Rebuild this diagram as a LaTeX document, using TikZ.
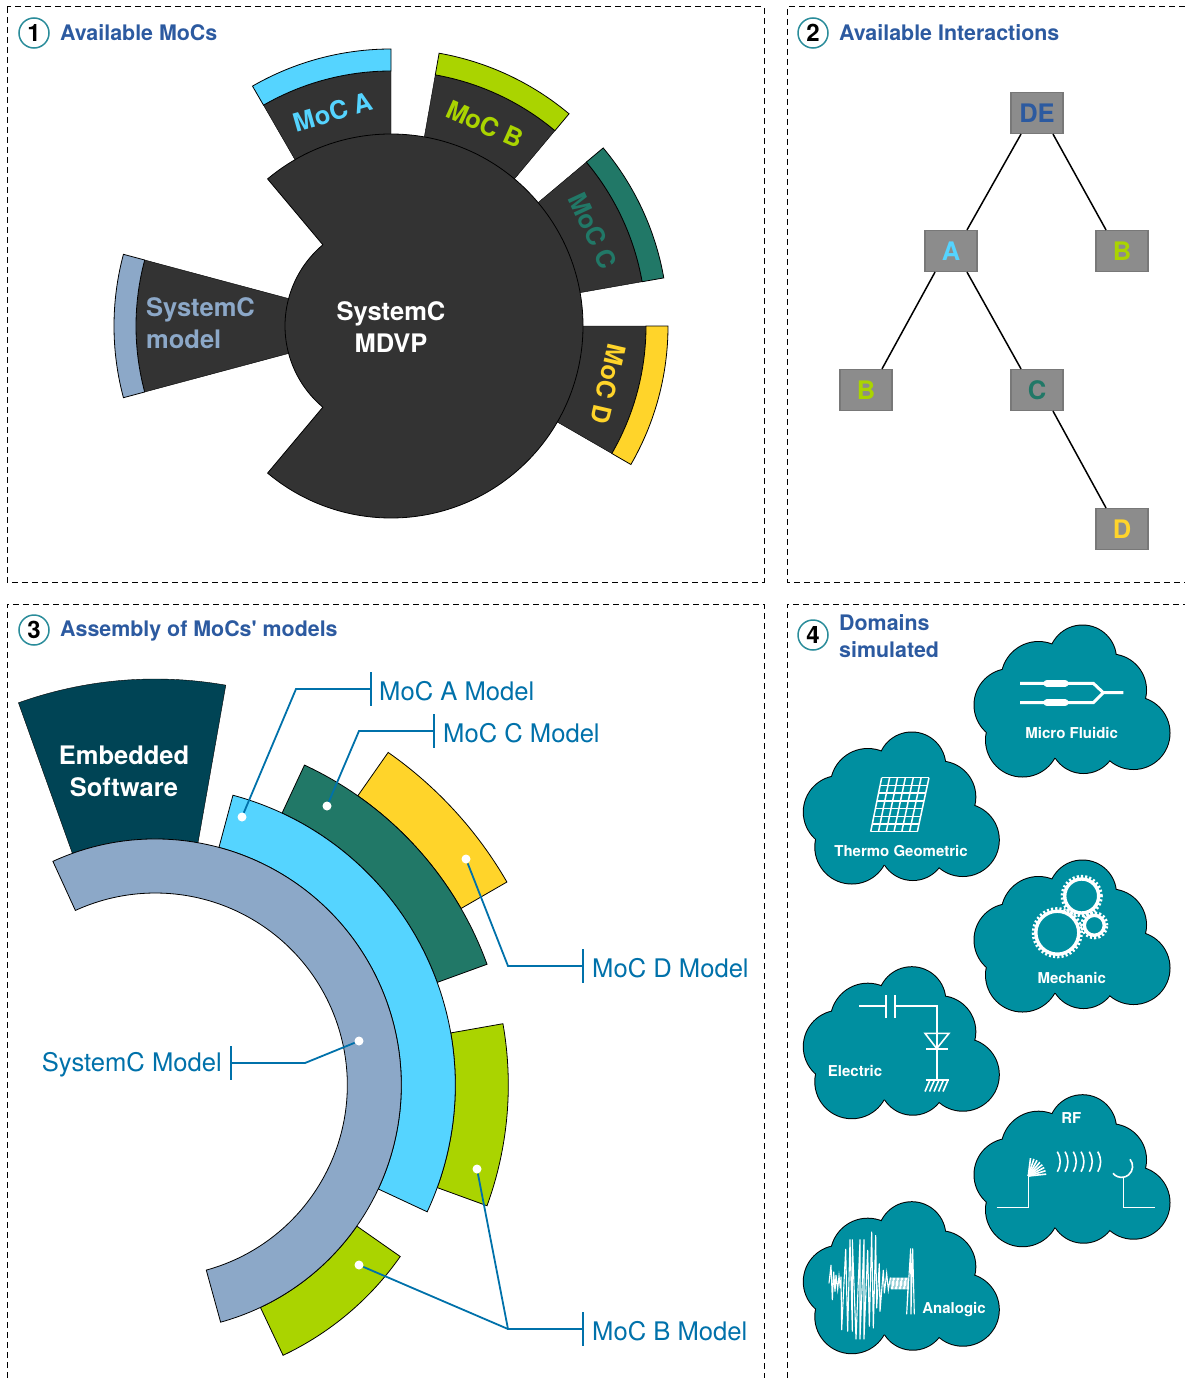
\documentclass[tikz,border=0pt]{standalone}
\usepackage{fontspec}
\setmainfont{TeX Gyre Heros}
\definecolor{mocA}{HTML}{55D4FF}
\definecolor{mocB}{HTML}{AAD400}
\definecolor{mocC}{HTML}{217867}
\definecolor{mocD}{HTML}{FFD42A}
\definecolor{sysc}{HTML}{8CA8C8}
\definecolor{coregray}{HTML}{333333}
\definecolor{softteal}{HTML}{004455}
\definecolor{headblue}{HTML}{2C5AA0}
\definecolor{leadblue}{HTML}{0071AA}
\definecolor{cloudteal}{HTML}{008FA0}
\definecolor{ringteal}{HTML}{2A8C9A}
\newcommand{\fsize}[2]{\fontsize{#1}{#2}\selectfont}
% centre, style, start angle, end angle, outer radius, inner radius
\newcommand{\ringpart}[6]{\draw[#2] ([shift={(#3:#5pt)}]#1) arc[start angle=#3,end angle=#4,radius=#5pt]
    -- ([shift={(#4:#6pt)}]#1) arc[start angle=#4,end angle=#3,radius=#6pt] -- cycle;}
\tikzset{
  panel/.style={black,line width=1pt,dash pattern=on 6pt off 4pt},
  part/.style={draw=black,line width=0.8pt,fill=#1},
  darkpart/.style={fill=coregray},
  badge/.style={circle,draw=ringteal,line width=1.5pt,fill=white,minimum size=30pt,inner sep=0pt,font=\fsize{24}{30}\bfseries},
  title/.style={anchor=base west,inner sep=0pt,text=headblue,font=\fsize{21.4}{27}\bfseries},
  moclabel/.style={inner sep=0pt,font=\fsize{25.5}{32}\bfseries},
  treenode/.style={rectangle,draw=black!53,fill=black!45,line width=1.2pt,minimum width=52pt,minimum height=41pt,inner sep=0pt,font=\fsize{25.5}{32}\bfseries},
  treeline/.style={black,line width=1.5pt},
  dotmark/.style={circle,fill=white,minimum size=9pt,inner sep=0pt},
  leadline/.style={leadblue,line width=1.8pt},
  leadtext/.style={inner sep=0pt,text=leadblue,font=\fsize{25.6}{32}},
  cloudtext/.style={inner sep=0pt,text=white,font=\fsize{15}{18}\bfseries},
  icon/.style={white,line width=2pt},
  cloudshape/.pic={
    \foreach \cx/\cy/\cr in {68/59/37,112/39/33.5,140/70/35.5,163/113/36,113/120/33,52/120/36.5,40/85/36}
      \draw[black,line width=2pt] (\cx,\cy) circle[radius=\cr pt];
    \foreach \cx/\cy/\cr in {68/59/37,112/39/33.5,140/70/35.5,163/113/36,113/120/33,52/120/36.5,40/85/36,100/85/55}
      \fill[cloudteal] (\cx,\cy) circle[radius=\cr pt];
  },
  gear/.pic={
    \draw[white,line width=3.4pt] (0,0) circle[radius=#1 pt];
    \draw[white,line width=3pt,dash pattern=on 2.1pt off 2.1pt] (0,0) circle[radius=#1 pt+2.6pt];
  },
}
\begin{document}
\begin{tikzpicture}[x=1pt,y=-1pt]
\useasboundingbox (0,0) rectangle (1185,1378);
% panels
\draw[panel] (7,7) rectangle (764,582);
\draw[panel] (1185,7) -- (787,7) -- (787,582) -- (1185,582);
\draw[panel] (7,1378) -- (7,604) -- (764,604) -- (764,1378);
\draw[panel] (787,1378) -- (787,604) -- (1185,604);
\node[badge] (badgeone) at (34,33) {1};
\node[title] (titleone) at (60,41) {Available MoCs};
\node[badge] (badgetwo) at (813,33) {2};
\node[title] (titletwo) at (839,41) {Available Interactions};
\node[badge] (badgethree) at (34,630) {3};
\node[title] (titlethree) at (60,636) {Assembly of MoCs\textquotesingle{} models};
\node[badge] (badgefour) at (813,635) {4};
\node[title,align=left,anchor=north west] (titlefour) at (839,614) {Domains\\simulated};

% 1: available MoCs
\coordinate (hub) at (391,326);
\ringpart{hub}{darkpart}{90}{120}{255}{100}
\ringpart{hub}{darkpart}{50}{80}{255}{100}
\ringpart{hub}{darkpart}{10}{40}{255}{100}
\ringpart{hub}{darkpart}{0}{-30}{255}{100}
\ringpart{hub}{darkpart}{165}{195}{255}{100}
\ringpart{hub}{part=mocA}{90}{120}{277}{255}
\ringpart{hub}{part=mocB}{50}{80}{277}{255}
\ringpart{hub}{part=mocC}{10}{40}{277}{255}
\ringpart{hub}{part=mocD}{0}{-30}{277}{255}
\ringpart{hub}{part=sysc}{165}{195}{277}{255}
\draw[part=coregray] ([shift={(130:192pt)}]hub) arc[start angle=130,end angle=-130,radius=192pt]
    -- ([shift={(230:106pt)}]hub) arc[start angle=230,end angle=130,radius=106pt] -- cycle;
\node[moclabel,text=white,align=center] (mdvp) at (391,327) {SystemC\\MDVP};
\node[moclabel,text=sysc,align=left,anchor=west] (sysclabel) at (146,323) {SystemC\\model};
\node[moclabel,text=mocA,rotate=16] (labela) at (333,112) {MoC A};
\node[moclabel,text=mocB,rotate=-24] (labelb) at (485,124) {MoC B};
\node[moclabel,text=mocC,rotate=-65] (labelc) at (593,231) {MoC C};
\node[moclabel,text=mocD,rotate=-103] (labeld) at (608,384) {MoC D};

% 2: available interactions
\node[treenode,text=headblue] (de) at (1037,113) {DE};
\node[treenode,text=mocA] (a) at (951,251) {A};
\node[treenode,text=mocB] (rightb) at (1122,251) {B};
\node[treenode,text=mocB] (leftb) at (866,390) {B};
\node[treenode,text=mocC] (c) at (1037,390) {C};
\node[treenode,text=mocD] (d) at (1122,529) {D};
\draw[treeline] ([xshift=-16pt]de.south) -- ([xshift=16pt]a.north);
\draw[treeline] ([xshift=16pt]de.south) -- ([xshift=-16pt]rightb.north);
\draw[treeline] ([xshift=-16pt]a.south) -- ([xshift=16pt]leftb.north);
\draw[treeline] ([xshift=16pt]a.south) -- ([xshift=-16pt]c.north);
\draw[treeline] ([xshift=16pt]c.south) -- ([xshift=-16pt]d.north);

% 3: assembly of models
\coordinate (stack) at (155.3,1085);
\ringpart{stack}{part=mocD}{55}{30}{406}{353}
\ringpart{stack}{part=mocC}{65}{20}{353}{300}
\ringpart{stack}{part=mocB}{10}{-20}{353}{300}
\ringpart{stack}{part=mocB}{-35}{-64.7}{299}{246}
\ringpart{stack}{part=mocA}{75}{-25}{300}{246}
\ringpart{stack}{fill=softteal}{80}{109.7}{406}{246}
\ringpart{stack}{part=sysc}{114.6}{-74.6}{246}{192}
\node[moclabel,text=white,align=center] (soft) at (124,771) {Embedded\\Software};

\node[dotmark] (dota) at (242,817) {};
\node[dotmark] (dotc) at (327,806) {};
\node[dotmark] (dotd) at (466,859) {};
\node[dotmark] (dotsys) at (359,1041) {};
\node[dotmark] (dotb) at (477,1169) {};
\node[dotmark] (dotbb) at (359,1265) {};
\coordinate (benda) at (296,689);
\coordinate (enda) at (371,689);
\coordinate (bendc) at (359,731);
\coordinate (endc) at (434,731);
\coordinate (bendd) at (508,966);
\coordinate (endd) at (583,966);
\coordinate (bendsys) at (305,1063);
\coordinate (endsys) at (231,1063);
\coordinate (bendb) at (508,1329);
\coordinate (endb) at (583,1329);
\draw[leadline] (dota) -- (benda) -- (enda);
\draw[leadline] (dotc) -- (bendc) -- (endc);
\draw[leadline] (dotd) -- (bendd) -- (endd);
\draw[leadline] (dotsys) -- (bendsys) -- (endsys);
\draw[leadline] (dotb) -- (bendb) -- (endb);
\draw[leadline] (dotbb) -- (bendb);
\foreach \tick in {enda,endc,endd,endsys,endb}
  \draw[leadline] ([yshift=17pt]\tick) -- ([yshift=-17pt]\tick);
\node[leadtext,anchor=west] (modela) at (379,691) {MoC A Model};
\node[leadtext,anchor=west] (modelc) at (443,733) {MoC C Model};
\node[leadtext,anchor=west] (modeld) at (592,968) {MoC D Model};
\node[leadtext,anchor=east] (modelsys) at (222,1065) {SystemC Model};
\node[leadtext,anchor=west] (modelb) at (592,1331) {MoC B Model};

% 4: domains
\pic at (970.5,620) {cloudshape};
\pic at (799.8,727) {cloudshape};
\pic at (970.5,855) {cloudshape};
\pic at (799.8,961.7) {cloudshape};
\pic at (970.5,1089.7) {cloudshape};
\pic at (799.8,1196.7) {cloudshape};
\node[cloudtext] (fluidic) at (1071.7,733) {Micro Fluidic};
\node[cloudtext] (thermo) at (901,851) {Thermo Geometric};
\node[cloudtext] (mechanic) at (1071.7,978) {Mechanic};
\node[cloudtext] (electric) at (855,1071) {Electric};
\node[cloudtext] (rf) at (1071.3,1118) {RF};
\node[cloudtext] (analogic) at (954,1310) {Analogic};

% micro fluidic
\draw[icon,line width=3pt] (1020,683.3) -- (1093.3,683.3) -- (1103.3,692.7) -- (1123.3,692.7);
\draw[icon,line width=3pt] (1020,702.7) -- (1093.3,702.7) -- (1103.3,692.7);
\draw[icon,line width=7pt,line cap=round] (1047,683.3) -- (1065,683.3);
\draw[icon,line width=7pt,line cap=round] (1047,702.7) -- (1065,702.7);

% thermo geometric
\begin{scope}[icon,line width=1.5pt]
  \foreach \i in {0,...,7}
    \draw ({881.7-11*\i/7},{777.7+54*\i/7}) -- ({929-11.7*\i/7},{777.7+54*\i/7});
  \foreach \i in {0,...,6}
    \draw ({881.7+47.3*\i/6},777.7) -- ({870.7+46.6*\i/6},831.7);
\end{scope}

% mechanic
\pic at (1081.7,896) {gear=17};
\pic at (1057.3,932.7) {gear=21.5};
\pic at (1094.3,925.3) {gear=10};

% electric
\begin{scope}[icon,line width=1.6pt]
  \draw (859.3,1006) -- (886,1006);
  \draw (886,995) -- (886,1017.5);
  \draw (895,995) -- (895,1017.5);
  \draw (895,1006) -- (936.7,1006) -- (936.7,1080);
  \draw (925,1033.3) -- (949,1033.3) -- (936.7,1048.5) -- cycle;
  \draw (926,1049) -- (948.3,1049);
  \draw (925.5,1080) -- (948.5,1080);
  \foreach \hx in {930,934.5,939,943.5,948}
    \draw (\hx,1080) -- (\hx-5,1091.5);
\end{scope}

% rf
\begin{scope}[icon,line width=1.6pt]
  \draw (996.7,1207.3) -- (1028.3,1207.3) -- (1028.3,1176);
  \foreach \ang in {6,17,...,84}
    \draw (1028.3,1176) -- ++(\ang:18pt);
  \foreach \wx in {1057.3,1065,1073.3,1081,1089.3,1097.7}
    \draw (\wx,1151.7) to[bend left=30] (\wx,1171.7);
  \draw (1130,1159.3) arc[start angle=40,end angle=-141,radius=11pt];
  \draw (1123.3,1177.3) -- (1123.3,1207.3) -- (1155,1207.3);
\end{scope}

% analogic
\begin{scope}[shift={(825,1230)},x=0.3333pt,y=-0.3333pt,icon,line width=1.1pt]
  \draw (12,160) -- (18,105) -- (22,210) -- (26,125) -- (30,185) -- (33,135) -- (38,178) -- (42,138)
    -- (46,175) -- (48,140) -- (50,300) -- (62,57) -- (68,305) -- (75,28) -- (82,305) -- (82,28)
    -- (93,328) -- (105,28) -- (105,328) -- (117,28) -- (117,328) -- (128,60) -- (133,290) -- (140,5)
    -- (145,295) -- (152,15) -- (155,235) -- (163,100) -- (165,245) -- (175,120) -- (178,190)
    -- (185,130) -- (190,180) -- (196,143);
  \foreach \hx in {197,201,...,249}
    \draw (\hx,143) -- (\hx+2,178);
  \draw (250,150) -- (245,253) -- (257,55) -- (258,253) -- (263,55) -- (268,253);
\end{scope}
\end{tikzpicture}
\end{document}
